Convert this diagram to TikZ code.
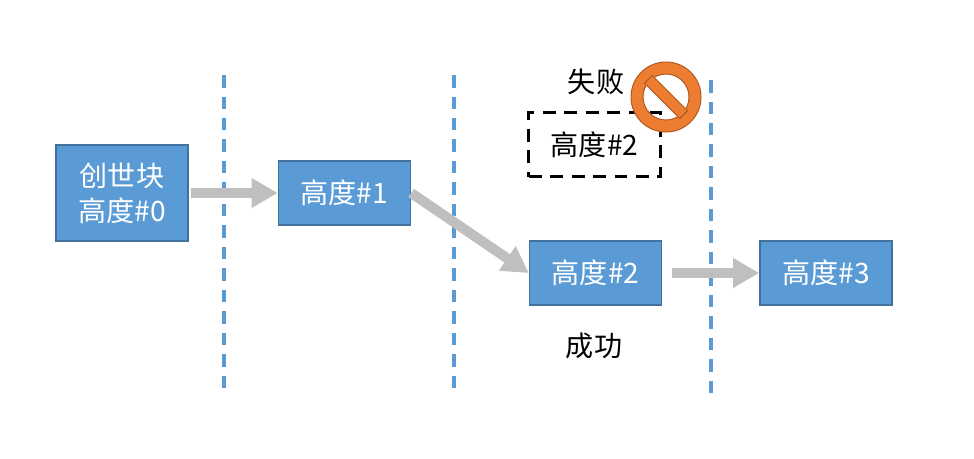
\documentclass[tikz,border=0pt]{standalone}
\usepackage{fontspec}
\setmainfont{Noto Sans CJK SC}
\usepackage{tikz}
\usetikzlibrary{positioning,arrows.meta}
\definecolor{blockblue}{HTML}{5B9BD5}
\definecolor{blockedge}{HTML}{41719C}
\definecolor{flowgray}{HTML}{BFBFBF}
\definecolor{signorange}{HTML}{ED7D31}
\definecolor{signedge}{HTML}{AE5A21}
\tikzset{
  block/.style={draw=blockedge,line width=0.03cm,fill=blockblue,text=white,minimum width=2.64cm,minimum height=1.28cm,inner sep=0pt,align=center,font=\fontsize{16}{20}\selectfont},
  failblock/.style={block,draw=black,fill=none,text=black,line width=0.07cm,dash pattern=on 0.26cm off 0.17cm},
  flow/.style={-{Triangle[length=0.52cm,width=0.56cm]},line width=0.2cm,draw=flowgray},
  cutline/.style={draw=blockblue,line width=0.08cm,dash pattern=on 0.25cm off 0.18cm},
  note/.style={font=\fontsize{16}{20}\selectfont,inner sep=0pt}
}
\begin{document}
\begin{tikzpicture}[x=0.02cm,y=-0.02cm]
\useasboundingbox (0,0) rectangle (974,458);
%
\node [block,minimum height=1.92cm] (b0) at (122,193) {创世块\\高度\#0};
\node [block, right = 1.78cm of b0] (b1) {高度\#1};
\node [block] (b2) at (595.5,273) {高度\#2};
\node [block, right = 1.94cm of b2] (b3) {高度\#3};
\node [failblock, above = 1.24cm of b2, xshift=-0.02cm] (bad) {高度\#2};
\node [note] (lost) at (596,82) {失败};
\node [note] (won) at (594,346) {成功};
%
\coordinate (c1a) at (224,75);
\coordinate (c1b) at (224,388);
\coordinate (c2a) at (454,75);
\coordinate (c2b) at (454,388);
\coordinate (c3a) at (711,80);
\coordinate (c3b) at (711,393);
\draw [cutline] (c1a) -- (c1b);
\draw [cutline] (c2a) -- (c2b);
\draw [cutline] (c3a) -- (c3b);
%
\draw [flow,shorten <=0.04cm] (b0.east) -- (b1.west);
\draw [flow] (b1.east) -- (b2.west);
\draw [flow,shorten <=0.2cm] (b2.east) -- (b3.west);
%
\coordinate (sign) at (666,97);
\draw [signedge,fill=signorange,line width=0.02cm,even odd rule] (sign) circle (35) (sign) circle (23);
\draw [signedge,fill=signorange,line width=0.02cm,rotate around={-45:(sign)}] (641,91.5) rectangle (691,102.5);
\end{tikzpicture}
\end{document}
